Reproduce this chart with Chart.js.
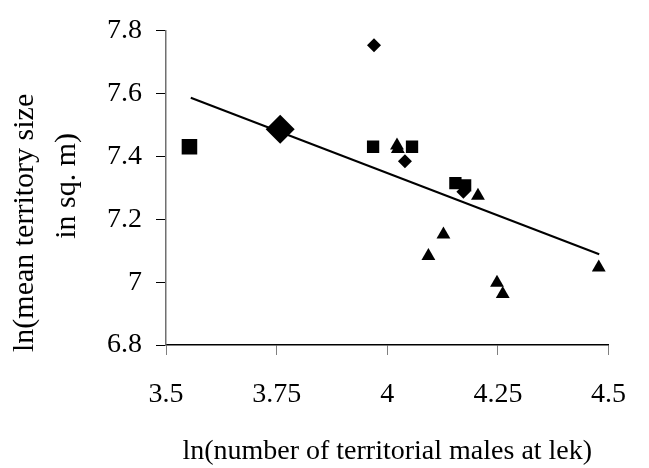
<!DOCTYPE html>
<html>
<head>
<meta charset="utf-8">
<script src="https://cdn.jsdelivr.net/npm/chart.js@4/dist/chart.umd.min.js"></script>
<style>
  html, body { margin: 0; padding: 0; background: #fff; }
  #wrap { width: 649px; height: 468px; }
</style>
</head>
<body>
<div id="wrap"><canvas id="chart"></canvas></div>
<script>
// lek data
const squareX = [3.968, 4.056, 4.154, 4.176];
const squareY = [7.431, 7.431, 7.315, 7.308];
const bigSquareX = [3.553];
const bigSquareY = [7.431];
const diamondX = [3.970, 4.040, 4.172];
const diamondY = [7.754, 7.385, 7.288];
const bigDiamondX = [3.758];
const bigDiamondY = [7.487];
const triangleX = [4.022, 4.024, 4.093, 4.127, 4.205, 4.248, 4.261, 4.478];
const triangleY = [7.435, 7.424, 7.083, 7.152, 7.275, 6.998, 6.962, 7.047];
// fitted line (end points)
const fitX = [3.556, 4.479];
const fitY = [7.587, 7.089];

const xTicks = [3.5, 3.75, 4, 4.25, 4.5];
const yTicks = [6.8, 7, 7.2, 7.4, 7.6, 7.8];
const xTitle = 'ln(number of territorial males at lek)';
const yTitleLines = ['ln(mean territory size', 'in sq. m)'];

const pts = (xs, ys) => xs.map((x, i) => ({ x: x, y: ys[i] }));
const font = { family: '"Liberation Serif", "Times New Roman", serif', size: 28 };

// y title is drawn by hand: the two lines are not centred on the same point
const yTitlePlugin = {
    id: 'yTitle',
    afterDraw(chart) {
        const ctx = chart.ctx;
        const mid = (chart.chartArea.top + chart.chartArea.bottom) / 2;
        ctx.save();
        ctx.font = '30px "Liberation Serif", "Times New Roman", serif';
        ctx.fillStyle = '#000';
        ctx.textAlign = 'center';
        ctx.textBaseline = 'alphabetic';
        [[33, mid + 35], [75, mid - 2]].forEach((p, i) => {
            ctx.save();
            ctx.translate(p[0], p[1]);
            ctx.rotate(-Math.PI / 2);
            ctx.fillText(yTitleLines[i], 0, 0);
            ctx.restore();
        });
        ctx.restore();
    }
};

const fmt = v => String(parseFloat(Number(v).toFixed(2)));

new Chart(document.getElementById('chart'), {
    type: 'scatter',
    data: {
        datasets: [
            { data: pts(squareX, squareY), pointStyle: 'rect', pointRadius: 8.7,
              backgroundColor: '#000', borderWidth: 0 },
            { data: pts(bigSquareX, bigSquareY), pointStyle: 'rect', pointRadius: 11,
              backgroundColor: '#000', borderWidth: 0 },
            { data: pts(diamondX, diamondY), pointStyle: 'rectRot', pointRadius: 7,
              backgroundColor: '#000', borderWidth: 0 },
            { data: pts(bigDiamondX, bigDiamondY), pointStyle: 'rectRot', pointRadius: 14.5,
              backgroundColor: '#000', borderWidth: 0 },
            { data: pts(triangleX, triangleY), pointStyle: 'triangle', pointRadius: 8,
              backgroundColor: '#000', borderWidth: 0 },
            { type: 'line', data: pts(fitX, fitY), showLine: true, pointRadius: 0,
              borderColor: '#000', borderWidth: 2, fill: false }
        ]
    },
    options: {
        responsive: true,
        maintainAspectRatio: false,
        animation: false,
        layout: { padding: { left: 0, top: 20, right: 21, bottom: 0 } },
        plugins: { legend: { display: false }, tooltip: { enabled: false } },
        scales: {
            x: {
                type: 'linear',
                min: 3.5,
                max: 4.5,
                afterBuildTicks: s => { s.ticks = xTicks.map(v => ({ value: v })); },
                afterFit: s => { s.height = 123; },
                grid: { drawOnChartArea: false, drawTicks: true, tickLength: 10, tickColor: '#808080' },
                border: { display: true, color: '#000', width: 1.5 },
                ticks: { color: '#000', font: font, padding: 23, maxRotation: 0, callback: fmt },
                title: { display: true, text: xTitle, color: '#000', font: font, padding: { top: 0, bottom: 0 } }
            },
            y: {
                type: 'linear',
                min: 6.8,
                max: 7.8,
                afterBuildTicks: s => { s.ticks = yTicks.map(v => ({ value: v })); },
                afterFit: s => { s.width = 166; },
                grid: { drawOnChartArea: false, drawTicks: true, tickLength: 10, tickColor: '#000' },
                border: { display: true, color: '#707070', width: 1.5 },
                ticks: { color: '#000', font: font, padding: 14, callback: fmt }
            }
        }
    },
    plugins: [yTitlePlugin]
});
</script>
</body>
</html>
